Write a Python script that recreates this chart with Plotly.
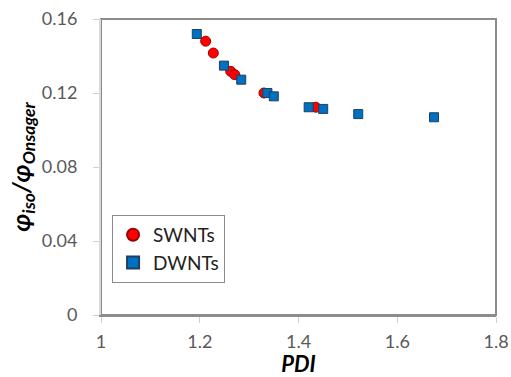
import plotly.graph_objects as go

swnt_pdi = [1.212, 1.2275, 1.2627, 1.271, 1.330, 1.435]
swnt_ratio = [0.148, 0.1416, 0.1317, 0.1299, 0.1200, 0.1123]

dwnt_pdi = [1.194, 1.249, 1.284, 1.337, 1.350, 1.4206, 1.450, 1.521, 1.6745]
dwnt_ratio = [0.1519, 0.1348, 0.1272, 0.1200, 0.1182, 0.1123, 0.1114, 0.1086, 0.1069]

x_ticks = [1, 1.2, 1.4, 1.6, 1.8]
y_ticks = [0, 0.04, 0.08, 0.12, 0.16]
y_ticklabels = ["0", "0.04", "0.08", "0.12", "0.16"]

FONT = "Lato, Open Sans, sans-serif"

fig = go.Figure()
fig.add_trace(go.Scatter(
    x=swnt_pdi, y=swnt_ratio, mode="markers", name="SWNTs", legendgroup="s",
    marker=dict(symbol="circle", size=10, color="#ff0000", line=dict(color="#9c0000", width=1)),
))
fig.add_trace(go.Scatter(
    x=dwnt_pdi, y=dwnt_ratio, mode="markers", name="DWNTs", legendgroup="d",
    marker=dict(symbol="square", size=9, color="#0070c0", line=dict(color="#1f3f60", width=1)),
))

fig.add_shape(type="rect", xref="x domain", yref="y domain", x0=0, y0=0, x1=1, y1=1,
              line=dict(color="#8c8c8c", width=2), layer="below")

fig.update_layout(
    width=511, height=377,
    margin=dict(l=101, r=15, t=19, b=62, autoexpand=False),
    plot_bgcolor="white", paper_bgcolor="white",
    font=dict(family=FONT, size=18, color="#595959"),
    showlegend=True,
    legend=dict(
        x=0.028, y=0.338, xanchor="left", yanchor="top",
        bgcolor="white", bordercolor="#8c8c8c", borderwidth=1,
        font=dict(family=FONT, size=19, color="#222222"),
        tracegroupgap=0, itemsizing="constant", entrywidth=88,
    ),
    xaxis=dict(
        range=[1, 1.8], tickvals=x_ticks, ticktext=[str(v) for v in x_ticks],
        showgrid=False, zeroline=False, automargin=False,
        showline=True, linecolor="#8c8c8c", linewidth=2,
        ticks="outside", ticklen=6, tickcolor="#d0d0d0", tickwidth=1,
        ticklabelstandoff=3, ticklabeloverflow="allow",
        title=dict(text="<b><i>PDI</i></b>", font=dict(family=FONT, size=22, color="#000000"), standoff=14),
    ),
    yaxis=dict(
        range=[0, 0.16], tickvals=y_ticks, ticktext=y_ticklabels,
        showgrid=False, zeroline=False, automargin=False,
        showline=True, linecolor="#d9d9d9", linewidth=2,
        ticks="outside", ticklen=6, tickcolor="#d0d0d0", tickwidth=1,
        ticklabelstandoff=12, ticklabeloverflow="allow",
        title=dict(text="<b><i>φ<sub>iso</sub>/φ<sub>Onsager</sub></i></b>",
                   font=dict(family=FONT, size=25, color="#000000"), standoff=4),
    ),
)

fig.write_html(
    "out.html",
    config={"displayModeBar": False},
    post_script="document.body.style.margin='0';document.body.style.overflow='hidden';",
)
